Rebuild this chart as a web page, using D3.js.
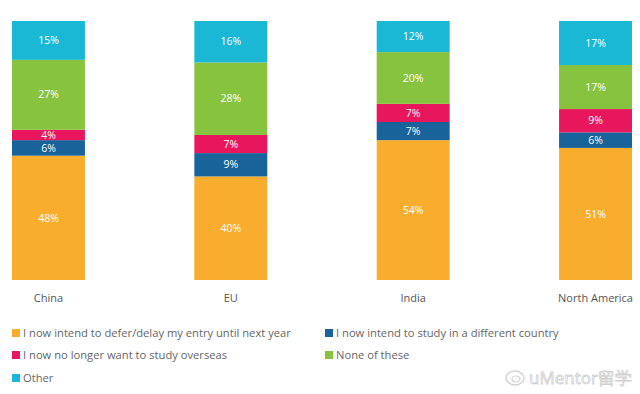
<!DOCTYPE html>
<html>
<head>
<meta charset="utf-8">
<script src="https://cdn.jsdelivr.net/npm/d3@7"></script>
<style>
  body { margin: 0; background: #fff; }
  svg { display: block; font-family: "Open Sans", sans-serif; }
</style>
</head>
<body>
<div id="chart"></div>
<script>
// regions along the x axis
var regions = ["China", "EU", "India", "North America"];

// one array per answer, values in %, in region order
var deferEntry   = [48, 40, 54, 51];
var otherCountry = [6, 9, 7, 6];
var noLonger     = [4, 7, 7, 9];
var noneOfThese  = [27, 28, 20, 17];
var other        = [15, 16, 12, 17];

var seriesNames = [
	"I now intend to defer/delay my entry until next year",
	"I now intend to study in a different country",
	"I now no longer want to study overseas",
	"None of these",
	"Other"
];
var seriesKeys = ["defer", "country", "nolonger", "none", "other"];
var colors = ["#f9ad2f", "#18639a", "#e8175d", "#87c33f", "#1bb8d6"];

var width = 640, height = 394;

var rows = regions.map(function (r, i) {
	return {
		region: r,
		defer: deferEntry[i],
		country: otherCountry[i],
		nolonger: noLonger[i],
		none: noneOfThese[i],
		other: other[i]
	};
});

var svg = d3.select("#chart").append("svg")
	.attr("width", width)
	.attr("height", height);

var x = d3.scaleBand()
	.domain(regions)
	.range([12, 632])
	.paddingInner(0.6)
	.paddingOuter(0);

var y = d3.scaleLinear()
	.domain([0, 100])
	.range([280, 21]);

var color = d3.scaleOrdinal().domain(seriesKeys).range(colors);

var stacked = d3.stack().keys(seriesKeys)(rows);

var layers = svg.selectAll("g.layer")
	.data(stacked).enter().append("g")
	.attr("class", "layer")
	.attr("fill", function (d) { return color(d.key); });

layers.selectAll("rect")
	.data(function (d) { return d; })
	.enter().append("rect")
	.attr("x", function (d) { return x(d.data.region); })
	.attr("width", x.bandwidth())
	.attr("y", function (d) { return y(d[1]); })
	.attr("height", function (d) { return y(d[0]) - y(d[1]); });

layers.selectAll("text")
	.data(function (d) { return d; })
	.enter().append("text")
	.attr("x", function (d) { return x(d.data.region) + x.bandwidth() / 2; })
	.attr("y", function (d) { return (y(d[0]) + y(d[1])) / 2; })
	.attr("dy", "0.35em")
	.attr("text-anchor", "middle")
	.attr("fill", "#fff")
	.attr("font-size", 10.5)
	.text(function (d) { return (d[1] - d[0]) + "%"; });

// category axis, no line or ticks
var xAxis = svg.append("g")
	.attr("transform", "translate(0,280)")
	.call(d3.axisBottom(x).tickSize(0).tickPadding(14));
xAxis.select(".domain").remove();
xAxis.selectAll("text")
	.attr("fill", "#555")
	.attr("font-size", 11)
	.attr("font-family", "Open Sans, sans-serif");

// legend, two columns
var legendPos = [[12, 333], [325, 333], [12, 355], [325, 355], [12, 378]];

var legend = svg.selectAll("g.leg")
	.data(seriesKeys).enter().append("g")
	.attr("class", "leg")
	.attr("transform", function (d, i) {
		return "translate(" + legendPos[i][0] + " " + legendPos[i][1] + ")";
	});

legend.append("rect")
	.attr("x", 0)
	.attr("y", -4)
	.attr("width", 8)
	.attr("height", 8)
	.attr("fill", function (d) { return color(d); });

legend.append("text")
	.attr("x", 11)
	.attr("dy", "0.35em")
	.attr("fill", "#666")
	.attr("font-size", 11.2)
	.text(function (d, i) { return seriesNames[i]; });

// watermark
var wm = svg.append("g").attr("transform", "translate(515 378)");
wm.append("ellipse")
	.attr("rx", 9).attr("ry", 7)
	.attr("fill", "none").attr("stroke", "#d4d4d4").attr("stroke-width", 1.5);
wm.append("ellipse")
	.attr("cx", 1).attr("cy", 1).attr("rx", 4).attr("ry", 3)
	.attr("fill", "none").attr("stroke", "#d4d4d4").attr("stroke-width", 1.2);
wm.append("text")
	.attr("x", 14)
	.attr("dy", "0.38em")
	.attr("font-size", 17)
	.attr("fill", "#fff")
	.attr("stroke", "#d0d0d0")
	.attr("stroke-width", 0.8)
	.text("uMentor留学");
</script>
</body>
</html>
